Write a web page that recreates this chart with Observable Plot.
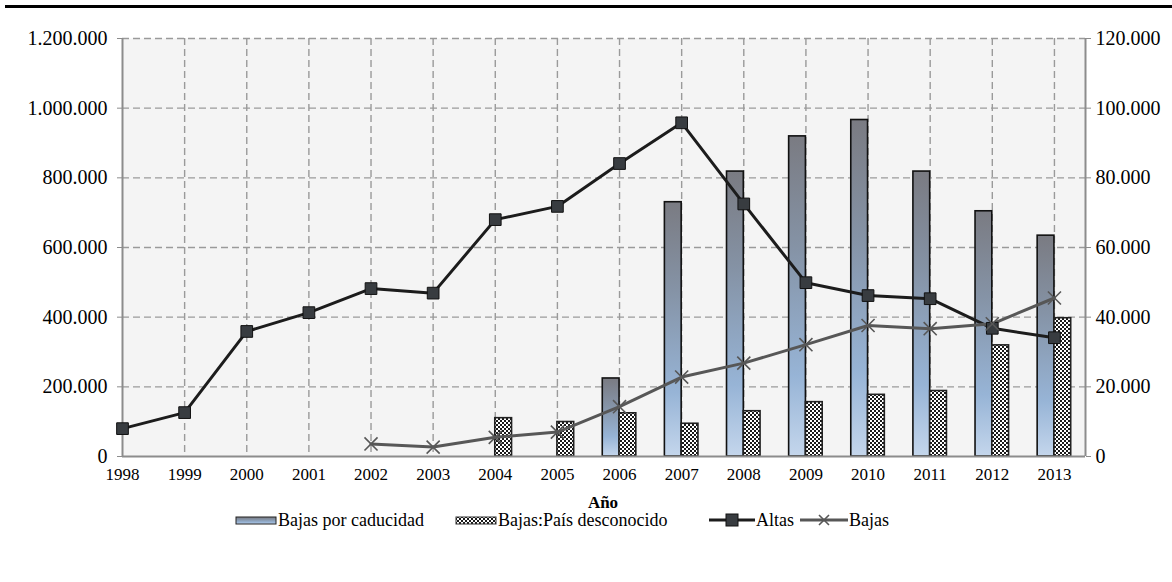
<!DOCTYPE html>
<html>
<head>
<meta charset="utf-8">
<script src="https://cdn.jsdelivr.net/npm/d3@7"></script>
<script src="https://cdn.jsdelivr.net/npm/@observablehq/plot@0.6"></script>
<style>
  html, body { margin: 0; padding: 0; background: #fff; }
  #wrap { position: relative; width: 1172px; height: 582px; font-family: "Liberation Serif", "DejaVu Serif", serif; }
  #topline { position: absolute; left: 5px; right: 0; top: 5px; height: 3px; background: #000; }
  #chart { position: absolute; left: 0; top: 0; }
  #xlabel { position: absolute; left: 0; width: 1206px; top: 494px; height: 18px; line-height: 18px; text-align: center; font-weight: bold; font-size: 17px; font-family: "Liberation Serif", serif; }
  #legend { position: absolute; left: 0; top: 512px; width: 1172px; height: 16px; line-height: 16px; font-size: 18px; font-family: "Liberation Serif", serif; }
  #legend .item { position: absolute; top: 0; height: 16px; display: flex; align-items: center; white-space: nowrap; }
  #legend svg { display: block; }
</style>
</head>
<body>
<svg width="0" height="0" style="position:absolute">
  <defs>
    <linearGradient id="gradCad" x1="0" y1="0" x2="0" y2="1">
      <stop offset="0" stop-color="#7a7b82"/>
      <stop offset="0.35" stop-color="#8593a6"/>
      <stop offset="0.75" stop-color="#97b4d6"/>
      <stop offset="1" stop-color="#c4d6ec"/>
    </linearGradient>
    <pattern id="patDesc" width="4" height="4" patternUnits="userSpaceOnUse">
      <rect width="4" height="4" fill="#fff"/>
      <rect x="0" y="0" width="2" height="2" fill="#1a1a1a"/>
      <rect x="2" y="2" width="2" height="2" fill="#1a1a1a"/>
    </pattern>
  </defs>
</svg>
<div id="wrap">
  <div id="topline"></div>
  <div id="chart"></div>
  <div id="xlabel">Año</div>
  <div id="legend"></div>
</div>
<script>
// ---- data ----
const years = [1998, 1999, 2000, 2001, 2002, 2003, 2004, 2005, 2006, 2007, 2008, 2009, 2010, 2011, 2012, 2013];
const altas = [80000, 126000, 359000, 413000, 482000, 469000, 680000, 718000, 841000, 958000, 725000, 499000, 462000, 453000, 368000, 341000];

const bajasYears = [2002, 2003, 2004, 2005, 2006, 2007, 2008, 2009, 2010, 2011, 2012, 2013];
const bajas = [36000, 27000, 55000, 70000, 143000, 228000, 268000, 321000, 376000, 367000, 381000, 455000];

// secondary (right) axis values
const caducidadYears = [2006, 2007, 2008, 2009, 2010, 2011, 2012, 2013];
const caducidad = [22400, 73000, 81800, 91900, 96600, 81800, 70400, 63400];

const desconocidoYears = [2004, 2005, 2006, 2007, 2008, 2009, 2010, 2011, 2012, 2013];
const desconocido = [11000, 9900, 12400, 9400, 13000, 15600, 17700, 18800, 31900, 39700];

const leftTicks = [0, 200000, 400000, 600000, 800000, 1000000, 1200000];
const rightTicks = [0, 20000, 40000, 60000, 80000, 100000, 120000];
const RATIO = 10; // left / right

const seriesNames = ["Bajas por caducidad", "Bajas:País desconocido", "Altas", "Bajas"];

// ---- tables ----
const altasData = years.map((y, i) => ({year: y, v: altas[i]}));
const bajasData = bajasYears.map((y, i) => ({year: y, v: bajas[i]}));
const cadData = caducidadYears.map((y, i) => ({year: y, v: caducidad[i] * RATIO}));
const descData = desconocidoYears.map((y, i) => ({year: y, v: desconocido[i] * RATIO}));

const fmt = d => String(Math.round(d)).replace(/\B(?=(\d{3})+(?!\d))/g, ".");
const BW = 0.27; // bar width in years
const SERIF = "Liberation Serif, DejaVu Serif, serif";

const chart = Plot.plot({
  width: 1172,
  height: 520,
  marginTop: 38,
  marginBottom: 64,
  marginLeft: 122,
  marginRight: 87,
  style: {fontFamily: SERIF, fontSize: "16px", color: "#000", background: "transparent"},
  x: {type: "linear", domain: [1998, 2013.5], axis: null},
  y: {domain: [0, 1200000], axis: null},
  marks: [
    Plot.frame({fill: "#f4f4f4", stroke: null}),
    Plot.gridY(leftTicks.slice(1), {stroke: "#9a9a9a", strokeOpacity: 1, strokeWidth: 1.4, strokeDasharray: "7,4"}),
    Plot.gridX(years.slice(1), {stroke: "#9a9a9a", strokeOpacity: 1, strokeWidth: 1.4, strokeDasharray: "7,4"}),
    Plot.rectY(cadData, {x1: d => d.year - BW, x2: d => d.year, y1: 0, y2: "v", fill: "url(#gradCad)", stroke: "#111", strokeWidth: 1.6}),
    Plot.rectY(descData, {x1: d => d.year, x2: d => d.year + BW, y1: 0, y2: "v", fill: "url(#patDesc)", stroke: "#222", strokeWidth: 1.6}),
    Plot.ruleX([1998, 2013.5], {y1: 0, y2: 1200000, stroke: "#8c8c8c", strokeWidth: 2}),
    Plot.ruleY([0], {stroke: "#8c8c8c", strokeWidth: 2}),
    Plot.axisY(leftTicks, {anchor: "left", tickFormat: fmt, tickSize: 5, tickPadding: 10, fontSize: 20, fontFamily: SERIF, stroke: "#8c8c8c", label: null}),
    Plot.axisY(rightTicks.map(v => v * RATIO), {anchor: "right", tickFormat: d => fmt(d / RATIO), tickSize: 5, tickPadding: 5, fontSize: 20, fontFamily: SERIF, stroke: "#8c8c8c", label: null}),
    Plot.axisX(years, {tickFormat: d => String(d), tickSize: 0, tickPadding: 11, fontSize: 17, fontFamily: SERIF, label: null}),
    Plot.line(altasData, {x: "year", y: "v", stroke: "#1c1c1c", strokeWidth: 3}),
    Plot.line(bajasData, {x: "year", y: "v", stroke: "#575757", strokeWidth: 3}),
    Plot.dot(altasData, {x: "year", y: "v", symbol: "square", r: 6.6, fill: "#383c40", stroke: "#111", strokeWidth: 1}),
    Plot.dot(bajasData, {x: "year", y: "v", symbol: "times", r: 6, stroke: "#575757", strokeWidth: 1.6})
  ]
});
document.getElementById("chart").appendChild(chart);

// ---- legend ----
const legend = document.getElementById("legend");
const legendLeft = [235, 455, 709, 800];
const swatches = [
  `<svg width="42" height="12"><rect x="1" y="3" width="40" height="7" fill="url(#gradCad)" stroke="#222" stroke-width="1"/></svg>`,
  `<svg width="42" height="12"><rect x="1" y="3" width="40" height="7" fill="url(#patDesc)" stroke="#333" stroke-width="1"/></svg>`,
  `<svg width="46" height="14"><line x1="0" y1="7" x2="46" y2="7" stroke="#1c1c1c" stroke-width="3"/><rect x="17" y="1" width="12" height="12" fill="#383c40" stroke="#111"/></svg>`,
  `<svg width="48" height="14"><line x1="0" y1="7" x2="48" y2="7" stroke="#575757" stroke-width="3"/><path d="M19 2 L29 12 M29 2 L19 12" stroke="#575757" stroke-width="1.6"/></svg>`
];
seriesNames.forEach((name, i) => {
  const it = document.createElement("div");
  it.className = "item";
  it.style.left = legendLeft[i] + "px";
  it.innerHTML = swatches[i] + `<span style="margin-left:1px">${name}</span>`;
  legend.appendChild(it);
});
</script>
</body>
</html>
